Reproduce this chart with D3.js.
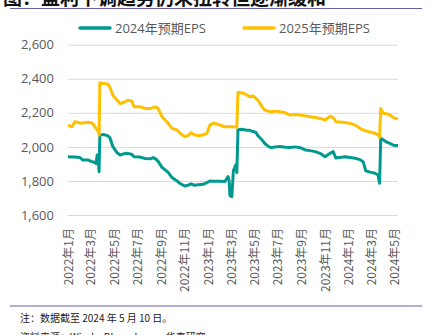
<!DOCTYPE html>
<html>
<head>
<meta charset="utf-8">
<script src="https://cdn.jsdelivr.net/npm/d3@7"></script>
<style>
  body { margin: 0; background: #fff; }
  svg { display: block; }
  .grid line { stroke: #d9d9d9; stroke-width: 1; }
  .grid path { display: none; }
  .axis text { fill: #595959; font-family: "Open Sans", "Noto Sans", sans-serif; }
  .xaxis text { font-family: "Noto Sans CJK SC", sans-serif; }
  .series { fill: none; stroke-width: 3; stroke-linejoin: round; }
</style>
</head>
<body>
<svg id="chart" width="434" height="335"></svg>
<script>
// 一致预期 EPS 走势（全市场）
const dates = [
  "2022-01-01", "2022-01-11", "2022-01-19", "2022-02-01", "2022-02-09", "2022-02-22",
  "2022-03-02", "2022-03-07", "2022-03-15", "2022-03-18", "2022-03-21", "2022-03-23",
  "2022-03-25", "2022-04-05", "2022-04-15", "2022-04-20", "2022-04-28", "2022-05-09",
  "2022-05-17", "2022-05-27", "2022-06-06", "2022-06-17", "2022-06-22", "2022-07-08",
  "2022-07-21", "2022-08-03", "2022-08-11", "2022-08-18", "2022-08-24", "2022-09-03",
  "2022-09-11", "2022-09-19", "2022-09-29", "2022-10-12", "2022-10-20", "2022-11-02",
  "2022-11-10", "2022-11-18", "2022-11-25", "2022-12-06", "2022-12-19", "2022-12-29",
  "2023-01-06", "2023-01-16", "2023-02-01", "2023-02-14", "2023-02-22", "2023-02-25",
  "2023-02-27", "2023-03-04", "2023-03-08", "2023-03-14", "2023-03-17", "2023-03-20",
  "2023-03-30", "2023-04-12", "2023-04-20", "2023-04-28", "2023-05-06", "2023-05-11",
  "2023-05-22", "2023-05-29", "2023-06-06", "2023-06-14", "2023-06-24", "2023-07-08",
  "2023-07-21", "2023-08-03", "2023-08-16", "2023-08-29", "2023-09-11", "2023-09-24",
  "2023-10-07", "2023-10-20", "2023-11-02", "2023-11-15", "2023-11-23", "2023-11-30",
  "2023-12-24", "2024-01-06", "2024-01-19", "2024-02-01", "2024-02-09", "2024-02-16",
  "2024-02-27", "2024-03-11", "2024-03-19", "2024-03-23", "2024-03-26", "2024-04-01",
  "2024-04-09", "2024-04-19", "2024-04-30", "2024-05-10"
];

const eps2024 = [
  1942, 1940, 1940, 1937, 1923, 1923,
  1915, 1913, 1903, 1952, 1923, 1854,
  2070, 2072, 2065, 2055, 2001, 1965,
  1952, 1960, 1962, 1955, 1942, 1940,
  1932, 1930, 1937, 1928, 1915, 1880,
  1865, 1850, 1820, 1800, 1785, 1770,
  1775, 1783, 1775, 1778, 1780, 1790,
  1800, 1798, 1798, 1797, 1825, 1800,
  1715, 1708, 1860, 1893, 1850, 2100,
  2103, 2098, 2097, 2090, 2085, 2065,
  2040, 2020, 2005, 1995, 2000, 2002,
  1998, 1997, 2000, 1995, 1982, 1978,
  1972, 1962, 1942, 1962, 1972, 1935,
  1942, 1938, 1933, 1925, 1913, 1860,
  1852, 1845, 1835, 1786, 2050, 2042,
  2030, 2020, 2008, 2008
];

const eps2025 = [
  2128, 2118, 2148, 2140, 2140, 2145,
  2142, 2135, 2109, 2100, 2089, 2070,
  2376, 2372, 2368, 2352, 2303, 2274,
  2254, 2262, 2274, 2268, 2235, 2235,
  2226, 2225, 2232, 2235, 2225, 2177,
  2158, 2138, 2109, 2100, 2080, 2060,
  2068, 2083, 2072, 2065, 2070, 2080,
  2128, 2140, 2128, 2118, 2120, 2118,
  2118, 2118, 2118, 2118, 2115, 2320,
  2318, 2305, 2294, 2300, 2285, 2274,
  2235, 2216, 2210, 2206, 2210, 2206,
  2200, 2187, 2190, 2187, 2182, 2177,
  2172, 2167, 2158, 2180, 2172, 2148,
  2143, 2138, 2128, 2109, 2100, 2095,
  2087, 2080, 2070, 2056, 2226, 2197,
  2195, 2187, 2170, 2163
];

const seriesNames = ["2024年预期EPS", "2025年预期EPS"];
const colors = ["#00998F", "#FFC000"];
const yTicks = [1600, 1800, 2000, 2200, 2400, 2600];
const tickMonths = [
  "2022-01", "2022-03", "2022-05", "2022-07", "2022-09", "2022-11",
  "2023-01", "2023-03", "2023-05", "2023-07", "2023-09", "2023-11",
  "2024-01", "2024-03", "2024-05"
];

const parse = d3.timeParse("%Y-%m-%d");
const parseMonth = d3.timeParse("%Y-%m");

const svg = d3.select("#chart");
const plot = { left: 68, right: 398, top: 44.7, bottom: 215 };

const x = d3.scaleTime()
  .domain([parse(dates[0]), parse(dates[dates.length - 1])])
  .range([plot.left, plot.right]);

const y = d3.scaleLinear()
  .domain([1600, 2600])
  .range([plot.bottom, plot.top]);

// 标题（上方被截断）与分隔线
svg.append("text")
  .attr("x", 3)
  .attr("y", 5)
  .attr("font-family", "Noto Sans CJK SC, sans-serif")
  .attr("font-weight", "bold")
  .attr("font-size", 19)
  .attr("fill", "#111")
  .text("图：盈利下调趋势仍未扭转但逐渐缓和");

svg.append("line")
  .attr("x1", 10).attr("x2", 422)
  .attr("y1", 8.5).attr("y2", 8.5)
  .attr("stroke", "#6a5fa6").attr("stroke-width", 1.2);

svg.append("line")
  .attr("x1", 10).attr("x2", 422)
  .attr("y1", 306).attr("y2", 306)
  .attr("stroke", "#6a5fa6").attr("stroke-width", 1.2);

// 网格线 + y 轴
const yAxis = svg.append("g")
  .attr("class", "axis grid")
  .attr("transform", `translate(${plot.left},0)`)
  .call(d3.axisLeft(y)
    .tickValues(yTicks)
    .tickSize(-(plot.right - plot.left))
    .tickPadding(14)
    .tickFormat(d3.format(",")));
yAxis.selectAll("text").attr("font-size", 13);

// x 轴：竖排日期
const xAxis = svg.append("g")
  .attr("class", "axis xaxis")
  .attr("transform", `translate(0,${plot.bottom})`)
  .call(d3.axisBottom(x)
    .tickValues(tickMonths.map(parseMonth))
    .tickSize(0)
    .tickFormat(d => d3.timeFormat("%Y")(d) + "年" + (d.getMonth() + 1) + "月"));
xAxis.select(".domain").remove();
xAxis.selectAll("text")
  .attr("font-size", 12)
  .attr("text-anchor", "end")
  .attr("x", 0)
  .attr("y", 0)
  .attr("dy", "0.36em")
  .attr("transform", "translate(0,13) rotate(-90)");

// 折线
const line = d3.line()
  .x((d, i) => x(parse(dates[i])))
  .y(d => y(d));

[eps2024, eps2025].forEach((vals, k) => {
  svg.append("path")
    .datum(vals)
    .attr("class", "series")
    .attr("stroke", colors[k])
    .attr("d", line);
});

// 图例
const legendX = [79, 243];
seriesNames.forEach((name, k) => {
  const g = svg.append("g").attr("transform", `translate(${legendX[k]},28)`);
  g.append("line")
    .attr("x1", 1).attr("x2", 31)
    .attr("stroke", colors[k])
    .attr("stroke-width", 3.5)
    .attr("stroke-linecap", "round");
  g.append("text")
    .attr("x", 36)
    .attr("dy", "0.36em")
    .attr("font-family", "Open Sans, Noto Sans CJK SC, sans-serif")
    .attr("font-size", 13)
    .attr("fill", "#595959")
    .text(name);
});

// 注释与来源
svg.append("text")
  .attr("x", 20).attr("y", 322)
  .attr("font-family", "Noto Sans CJK SC, sans-serif")
  .attr("font-size", 10)
  .attr("fill", "#222")
  .text("注：数据截至 2024 年 5 月 10 日。");

svg.append("text")
  .attr("x", 20).attr("y", 341)
  .attr("font-family", "Noto Sans CJK SC, sans-serif")
  .attr("font-size", 10)
  .attr("fill", "#222")
  .text("资料来源：Wind，Bloomberg，华泰研究");
</script>
</body>
</html>
